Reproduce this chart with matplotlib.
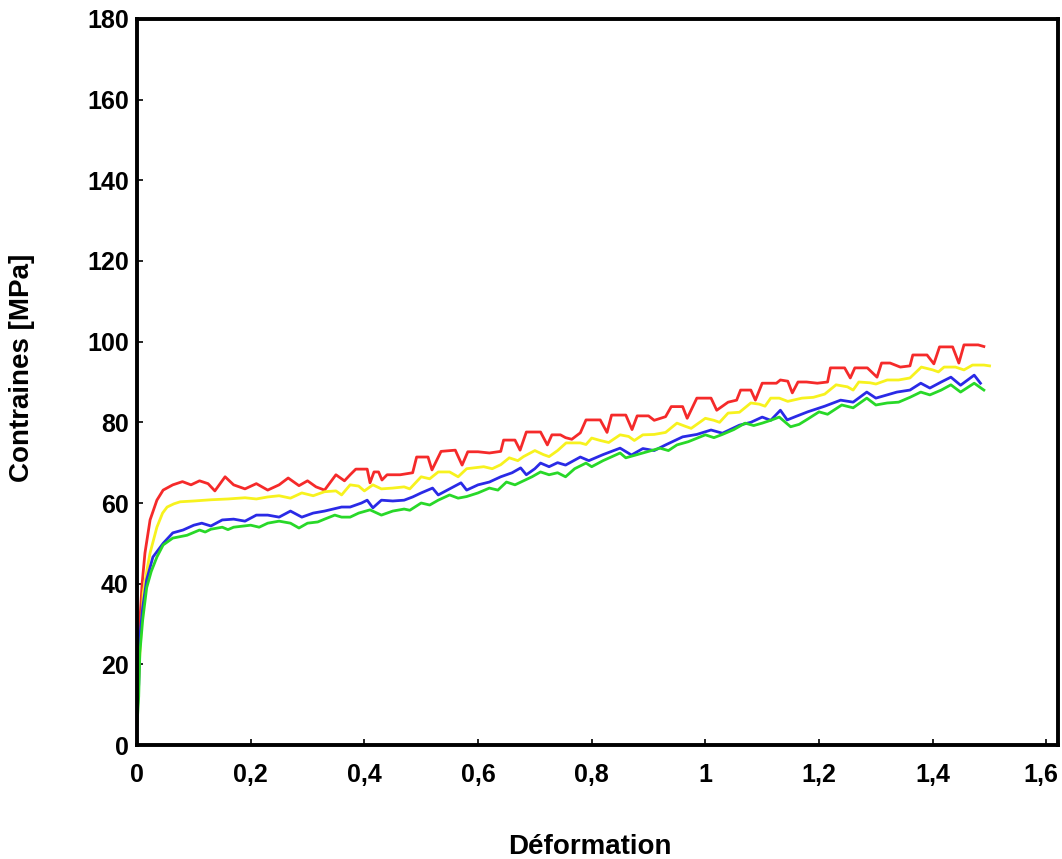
import matplotlib
matplotlib.use("Agg")
import matplotlib.pyplot as plt
import matplotlib.transforms as mtransforms
import numpy as np

# (strain, stress in MPa)
red = [(0, 8), (0.003, 22), (0.006, 33), (0.009, 40), (0.014, 47.6), (0.023, 55.8),
       (0.035, 60.7), (0.046, 63.2), (0.063, 64.5), (0.08, 65.3), (0.095, 64.5),
       (0.11, 65.5), (0.125, 64.8), (0.137, 63), (0.155, 66.5), (0.17, 64.5),
       (0.19, 63.5), (0.21, 64.8), (0.23, 63.2), (0.25, 64.5), (0.266, 66.2),
       (0.285, 64.3), (0.30, 65.5), (0.315, 64), (0.33, 63.2), (0.35, 67),
       (0.365, 65.5), (0.375, 67), (0.385, 68.4), (0.405, 68.4), (0.410, 65.0),
       (0.417, 67.7), (0.425, 67.7), (0.431, 65.7), (0.44, 67), (0.463, 67.0),
       (0.485, 67.5), (0.492, 71.4), (0.512, 71.4), (0.519, 68.2), (0.535, 72.8),
       (0.56, 73.1), (0.572, 69.4), (0.582, 72.7), (0.60, 72.7), (0.62, 72.4),
       (0.64, 72.8), (0.645, 75.6), (0.665, 75.6), (0.674, 73.1), (0.685, 77.6),
       (0.71, 77.6), (0.722, 74.4), (0.73, 76.9), (0.745, 76.9), (0.754, 76.2),
       (0.765, 75.8), (0.78, 77.4), (0.79, 80.6), (0.815, 80.6), (0.827, 77.5),
       (0.835, 81.8), (0.86, 81.8), (0.871, 78.2), (0.88, 81.6), (0.90, 81.6),
       (0.91, 80.5), (0.93, 81.4), (0.94, 83.9), (0.96, 83.9), (0.968, 81),
       (0.985, 86), (1.01, 86), (1.02, 83), (1.04, 85), (1.055, 85.5), (1.062, 88),
       (1.08, 88), (1.088, 85.5), (1.10, 89.7), (1.125, 89.7), (1.132, 90.5),
       (1.145, 90.2), (1.153, 87.3), (1.163, 90), (1.178, 90), (1.197, 89.7),
       (1.215, 90), (1.22, 93.5), (1.245, 93.5), (1.255, 91), (1.263, 93.5),
       (1.285, 93.5), (1.302, 91.2), (1.31, 94.7), (1.325, 94.7), (1.343, 93.7),
       (1.36, 94), (1.365, 96.7), (1.39, 96.7), (1.402, 94.5), (1.412, 98.7),
       (1.435, 98.7), (1.446, 94.7), (1.455, 99.2), (1.48, 99.2), (1.49, 98.8)]

yellow = [(0, 6), (0.004, 20), (0.008, 30), (0.011, 37.7), (0.017, 43), (0.023, 47.6),
          (0.035, 54), (0.045, 57.5), (0.053, 59), (0.065, 59.8), (0.076, 60.3),
          (0.10, 60.5), (0.13, 60.8), (0.16, 61), (0.19, 61.3), (0.21, 61),
          (0.23, 61.5), (0.25, 61.8), (0.27, 61.2), (0.29, 62.5), (0.31, 61.8),
          (0.33, 62.8), (0.35, 63), (0.36, 62), (0.375, 64.5), (0.39, 64.2),
          (0.40, 63), (0.415, 64.5), (0.43, 63.5), (0.45, 63.7), (0.47, 64),
          (0.48, 63.5), (0.50, 66.5), (0.515, 66), (0.53, 67.7), (0.55, 67.7),
          (0.565, 66.5), (0.58, 68.5), (0.61, 69), (0.625, 68.5), (0.64, 69.5),
          (0.655, 71.2), (0.67, 70.5), (0.68, 71.5), (0.70, 73), (0.715, 72),
          (0.725, 71.5), (0.74, 73), (0.755, 74.9), (0.78, 74.9), (0.79, 74.5),
          (0.80, 76.1), (0.815, 75.5), (0.83, 75), (0.85, 76.9), (0.865, 76.5),
          (0.875, 75.5), (0.89, 76.9), (0.91, 77), (0.93, 77.5), (0.95, 79.8),
          (0.965, 79), (0.975, 78.5), (1.0, 81), (1.015, 80.5), (1.025, 80),
          (1.04, 82.3), (1.06, 82.5), (1.08, 84.8), (1.095, 84.5), (1.105, 84),
          (1.115, 86), (1.13, 86), (1.145, 85.2), (1.17, 86), (1.19, 86.2),
          (1.21, 87), (1.23, 89.3), (1.25, 88.8), (1.26, 88), (1.27, 90),
          (1.29, 89.8), (1.30, 89.5), (1.32, 90.5), (1.34, 90.5), (1.36, 91),
          (1.38, 93.7), (1.40, 93), (1.41, 92.5), (1.42, 93.7), (1.44, 93.7),
          (1.455, 93), (1.47, 94.2), (1.49, 94.2), (1.5, 94)]

blue = [(0, 7), (0.003, 15), (0.005, 26.8), (0.01, 34), (0.017, 41), (0.028, 46.6),
        (0.046, 50), (0.063, 52.6), (0.081, 53.3), (0.1, 54.5), (0.114, 55),
        (0.13, 54.3), (0.15, 55.8), (0.17, 56), (0.19, 55.5), (0.21, 57),
        (0.23, 57), (0.25, 56.5), (0.27, 58), (0.29, 56.5), (0.31, 57.5),
        (0.33, 58), (0.36, 59), (0.375, 59), (0.395, 60), (0.405, 60.7),
        (0.415, 58.8), (0.43, 60.7), (0.45, 60.5), (0.47, 60.7), (0.485, 61.5),
        (0.50, 62.5), (0.52, 63.7), (0.53, 62), (0.55, 63.5), (0.57, 65),
        (0.58, 63.2), (0.60, 64.5), (0.62, 65.2), (0.64, 66.5), (0.66, 67.5),
        (0.675, 68.7), (0.685, 67), (0.70, 68.5), (0.71, 69.9), (0.725, 69),
        (0.74, 70), (0.754, 69.4), (0.78, 71.4), (0.795, 70.5), (0.82, 72),
        (0.85, 73.6), (0.87, 71.9), (0.89, 73.5), (0.91, 73), (0.93, 74.4),
        (0.96, 76.4), (0.985, 77), (1.01, 78.1), (1.03, 77.3), (1.06, 79.3),
        (1.08, 80), (1.10, 81.3), (1.115, 80.5), (1.132, 83), (1.144, 80.6),
        (1.16, 81.5), (1.18, 82.6), (1.21, 84), (1.238, 85.5), (1.26, 85),
        (1.284, 87.5), (1.30, 86), (1.337, 87.5), (1.36, 88), (1.379, 89.7),
        (1.395, 88.5), (1.415, 90), (1.432, 91.2), (1.449, 89.2), (1.473, 91.7),
        (1.484, 89.7)]

green = [(0, 5), (0.003, 12), (0.005, 22.8), (0.01, 31), (0.017, 39), (0.025, 43),
         (0.035, 46.6), (0.046, 49.6), (0.063, 51.3), (0.088, 52), (0.11, 53.3),
         (0.12, 52.8), (0.13, 53.5), (0.15, 54), (0.16, 53.4), (0.17, 54),
         (0.2, 54.5), (0.215, 54), (0.23, 55), (0.25, 55.5), (0.27, 55),
         (0.285, 53.8), (0.30, 55), (0.318, 55.3), (0.33, 56), (0.348, 57),
         (0.36, 56.5), (0.375, 56.5), (0.39, 57.5), (0.41, 58.3), (0.43, 57),
         (0.45, 58), (0.47, 58.5), (0.48, 58.2), (0.50, 60), (0.515, 59.5),
         (0.53, 60.7), (0.55, 62), (0.565, 61.2), (0.58, 61.6), (0.60, 62.5),
         (0.62, 63.7), (0.635, 63.2), (0.65, 65.2), (0.665, 64.5), (0.68, 65.5),
         (0.695, 66.5), (0.71, 67.7), (0.725, 67), (0.74, 67.5), (0.754, 66.5),
         (0.77, 68.5), (0.79, 69.9), (0.80, 69), (0.82, 70.5), (0.85, 72.4),
         (0.86, 71.2), (0.875, 71.8), (0.90, 72.8), (0.92, 73.6), (0.935, 73),
         (0.95, 74.4), (0.97, 75.2), (1.0, 76.9), (1.015, 76.2), (1.03, 77),
         (1.05, 78.2), (1.07, 79.8), (1.085, 79.2), (1.10, 79.8), (1.115, 80.5),
         (1.13, 81.3), (1.15, 78.9), (1.165, 79.5), (1.18, 80.8), (1.20, 82.6),
         (1.215, 82), (1.24, 84.3), (1.26, 83.6), (1.284, 86), (1.30, 84.3),
         (1.32, 84.8), (1.34, 85), (1.36, 86.2), (1.379, 87.5), (1.395, 86.8),
         (1.415, 88), (1.432, 89.3), (1.449, 87.5), (1.473, 89.7), (1.49, 88)]

x_ticks = [0, 0.2, 0.4, 0.6, 0.8, 1.0, 1.2, 1.4, 1.6]
x_tick_labels = ['0', '0,2', '0,4', '0,6', '0,8', '1', '1,2', '1,4', '1,6']
y_ticks = [0, 20, 40, 60, 80, 100, 120, 140, 160, 180]

plt.rcParams['font.family'] = ['Liberation Sans', 'DejaVu Sans']

fig = plt.figure(figsize=(10.62, 8.59), dpi=100)
ax = fig.add_axes([0.129, 0.1327, 0.867, 0.8452])

for data, color in [(red, '#f52a2a'), (yellow, '#f7f21e'),
                    (blue, '#2a2ae6'), (green, '#28d828')]:
    d = np.array(data)
    ax.plot(d[:, 0], d[:, 1], color=color, lw=2.0)

ax.set_xlim(0, 1.62)
ax.set_ylim(0, 180)
ax.set_xticks(x_ticks)
ax.set_xticklabels(x_tick_labels)
ax.set_yticks(y_ticks)
for s in ax.spines.values():
    s.set_linewidth(2.8)
ax.tick_params(direction='in', length=4, width=1.2, labelsize=18)
ax.tick_params(axis='x', pad=13)
ax.tick_params(axis='y', pad=6)
for lab in ax.get_xticklabels() + ax.get_yticklabels():
    lab.set_fontweight('bold')

# last x label sits a little left of its tick, as in the original
last = ax.get_xticklabels()[-1]
last.set_transform(last.get_transform() +
                   mtransforms.ScaledTranslation(-6 / 100, 0, fig.dpi_scale_trans))

ax.set_xlabel('Déformation', fontsize=20, fontweight='bold')
ax.xaxis.set_label_coords(0.492, -0.123)
ax.set_ylabel('Contraines [MPa]', fontsize=20, fontweight='bold')
ax.yaxis.set_label_coords(-0.111, 0.52)

fig.savefig('out.png', dpi=100)
